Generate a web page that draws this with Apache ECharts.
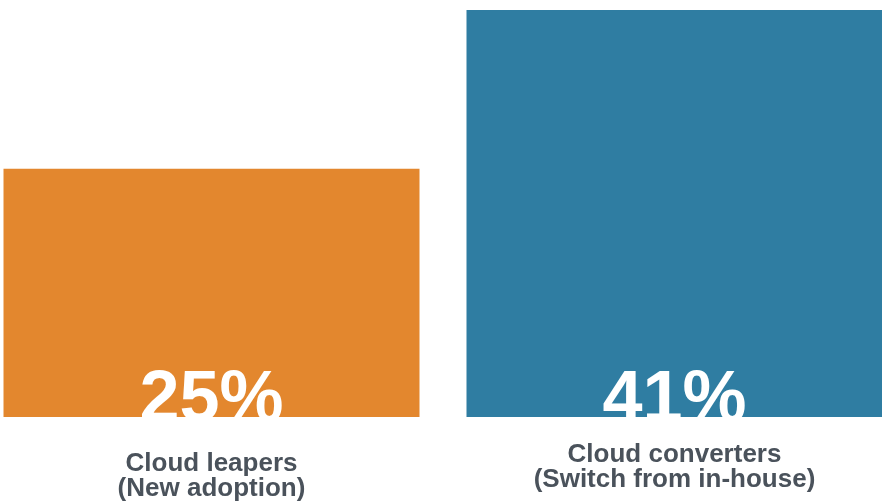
<!DOCTYPE html>
<html>
<head>
<meta charset="utf-8">
<script src="https://cdn.jsdelivr.net/npm/echarts@6/dist/echarts.min.js"></script>
<style>
  html, body { margin: 0; padding: 0; background: #ffffff; }
  #chart { width: 882px; height: 504px; }
</style>
</head>
<body>
<div id="chart"></div>
<script>
// Cloud adoption segments and their shares (%)
var categories = ['Cloud leapers\n(New adoption)', 'Cloud converters\n(Switch from in-house)'];
var shares = [25, 41];
var barColors = ['#E3872E', '#2F7DA2'];

var chart = echarts.init(document.getElementById('chart'));

var FONT = '"Liberation Sans", Arial, Helvetica, sans-serif';

chart.setOption({
  backgroundColor: '#ffffff',
  animation: false,
  grid: {
    left: -20, right: -24, top: 10, bottom: 87,
    containLabel: false,
    outerBoundsMode: 'none'
  },
  xAxis: {
    type: 'category',
    z: 120,
    data: categories.map(function (c, i) {
      return {
        value: c,
        textStyle: { padding: i === 0 ? [9, 0, 0, 0] : [0, 0, 0, 0] }
      };
    }),
    axisLine: { show: false },
    axisTick: { show: false },
    axisLabel: {
      margin: 25,
      color: '#4A525B',
      fontFamily: FONT,
      fontWeight: 'bold',
      fontSize: 26,
      lineHeight: 25
    }
  },
  yAxis: {
    type: 'value',
    min: 0,
    max: 41,
    show: false,
    splitLine: { show: false }
  },
  series: [{
    type: 'bar',
    barCategoryGap: 47,
    data: shares.map(function (v, i) {
      return { value: v, itemStyle: { color: barColors[i] } };
    }),
    label: {
      show: true,
      position: 'insideBottom',
      distance: 0,
      offset: [0, 20],
      formatter: '{c}%',
      color: '#ffffff',
      fontFamily: FONT,
      fontWeight: 'bold',
      fontSize: 72,
      lineHeight: 72
    }
  }],
  // white band under the bars trims the overhanging percentage labels
  graphic: [{
    type: 'rect',
    z: 100,
    shape: { x: 0, y: 417, width: 882, height: 87 },
    style: { fill: '#ffffff' },
    silent: true
  }]
});
</script>
</body>
</html>
